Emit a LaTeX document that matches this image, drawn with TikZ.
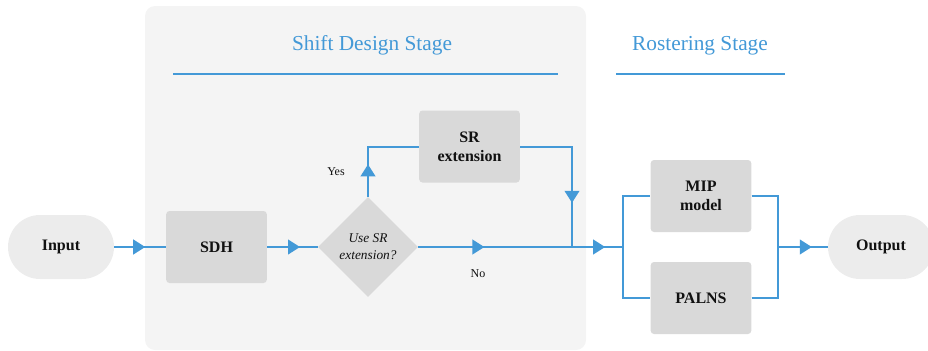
\documentclass[tikz,border=0pt]{standalone}
\usepackage{fontspec}
\setmainfont{Liberation Serif}
\usetikzlibrary{shapes.geometric,arrows.meta,decorations.markings}
\definecolor{flow}{HTML}{4399D7}
\definecolor{panelbg}{HTML}{F4F4F4}
\definecolor{boxbg}{HTML}{D9D9D9}
\definecolor{termbg}{HTML}{ECECEC}
\definecolor{ink}{HTML}{111111}
\tikzset{
  wire/.style={draw=flow, line width=1.5pt},
  tipat/.style={postaction={decorate, decoration={markings,
      mark=at position #1 with {\arrow{Triangle[length=9pt,width=11pt]}}}}},
  procbox/.style={rectangle, rounded corners=2.5pt, fill=boxbg, text=ink,
      minimum width=75.5pt, minimum height=54pt, align=center,
      font=\fontsize{12}{14.5}\selectfont\bfseries},
  terminal/.style={rectangle, rounded corners=24pt, fill=termbg, text=ink,
      minimum width=79.5pt, minimum height=48pt,
      font=\fontsize{12}{14.5}\selectfont\bfseries},
  decision/.style={diamond, aspect=1, fill=boxbg, text=ink, inner sep=0pt,
      minimum size=75pt, align=center,
      font=\fontsize{10}{12.75}\selectfont\itshape},
  stagetitle/.style={text=flow, font=\fontsize{16}{19}\selectfont},
  branchlabel/.style={text=ink, font=\fontsize{9}{11}\selectfont},
}
\begin{document}
\begin{tikzpicture}[x=0.75pt, y=-0.75pt]
\useasboundingbox (0,0) rectangle (928,350);

% stage panel
\fill[panelbg, rounded corners=7.5pt] (145,6) rectangle (586,350);

% stage headings
\node[stagetitle] (t1) at (372,45.5) {Shift Design Stage};
\node[stagetitle] (t2) at (700,45.5) {Rostering Stage};
\draw[wire] (173,74) -- (558,74);
\draw[wire] (616,74) -- (785,74);

% nodes
\node[terminal] (in) at (61,247) {Input};
\node[procbox] (sdh) at (216.5,247) {SDH};
\node[decision] (dec) at (368,247) {Use SR\\extension?};
\node[procbox] (sr) at (469.5,146.5) {SR\\extension};
\node[procbox] (mip) at (701,196) {MIP\\model};
\node[procbox] (palns) at (701,298) {PALNS};
\node[terminal] (out) at (881,247) {Output};

\coordinate (merge) at (572,247);
\coordinate (split) at (623,247);
\coordinate (join) at (778,247);

% connectors
\draw[wire, tipat=0.6] (in.east) -- (sdh.west);
\draw[wire, tipat=0.65] (sdh.east) -- (dec.west);
\draw[wire, tipat=0.32] (dec.north) |- (sr.west);
\draw[wire, tipat=0.71] (sr.east) -| (merge);
\draw[wire, tipat=0.43] (dec.east) -- (merge);
\draw[wire, tipat=0.65] (merge) -- (split);
\draw[wire] (split) |- (mip.west);
\draw[wire] (split) |- (palns.west);
\draw[wire] (mip.east) -| (join);
\draw[wire] (palns.east) -| (join);
\draw[wire, tipat=0.68] (join) -- (out.west);

% branch labels
\node[branchlabel] (yes) at (336,172) {Yes};
\node[branchlabel] (no) at (478,274) {No};
\end{tikzpicture}
\end{document}
